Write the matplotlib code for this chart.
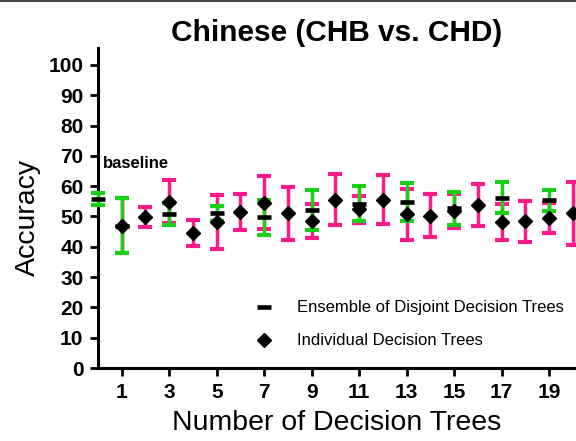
import matplotlib
matplotlib.use("Agg")
import matplotlib.pyplot as plt
from matplotlib.lines import Line2D
import numpy as np

plt.rcParams['font.family'] = ['Liberation Sans', 'DejaVu Sans']

# ---- data ----
indiv_x = list(range(1, 21))
indiv_mean = [47.0, 49.9, 54.9, 44.5, 48.2, 51.4, 54.6, 51.0, 48.6, 55.6,
              52.4, 55.6, 50.8, 50.2, 51.8, 53.9, 48.1, 48.4, 49.6, 51.0]
indiv_err = [9.2, 3.3, 7.0, 4.2, 9.0, 6.0, 8.8, 8.8, 5.6, 8.4,
             4.4, 8.1, 8.4, 7.1, 5.5, 6.9, 5.9, 6.8, 5.0, 10.5]

ens_x = [1, 3, 5, 7, 9, 11, 13, 15, 17, 19]
ens_mean = [47.0, 50.8, 51.0, 49.7, 52.3, 54.2, 54.8, 52.7, 56.2, 55.3]
ens_err = [9.2, 3.5, 2.6, 5.8, 6.6, 5.7, 6.4, 5.5, 5.2, 3.6]

base_x = [0]
base_mean = [55.7]
base_err = [2.0]

xticks = [1, 3, 5, 7, 9, 11, 13, 15, 17, 19]
yticks = [0, 10, 20, 30, 40, 50, 60, 70, 80, 90, 100]

title = "Chinese (CHB vs. CHD)"
xlabel = "Number of Decision Trees"
ylabel = "Accuracy"
leg_labels = ["Ensemble of Disjoint Decision Trees", "Individual Decision Trees"]

PINK = '#FF1A8A'
GREEN = '#19D019'

fig = plt.figure(figsize=(5.76, 4.41), dpi=100)
ax = fig.add_axes([98/576, 1-368/441, 1-98/576, (368-48)/441])

EW, CT, CS = 2.5, 3.0, 4.9
# pink error bars (individual)
ax.errorbar(indiv_x, indiv_mean, yerr=indiv_err, fmt='none', ecolor=PINK,
            elinewidth=EW, capsize=CS, capthick=CT, zorder=2)
# green error bars (ensemble)
ax.errorbar(ens_x, ens_mean, yerr=ens_err, fmt='none', ecolor=GREEN,
            elinewidth=EW, capsize=CS, capthick=CT, zorder=3)
eb = ax.errorbar(base_x, base_mean, yerr=base_err, fmt='none', ecolor=GREEN,
                 elinewidth=EW, capsize=CS, capthick=CT, zorder=3)
for art in eb.lines[1] + eb.lines[2]:
    art.set_clip_on(False)

# markers
ax.plot(indiv_x, indiv_mean, ls='none', marker='D', ms=7, color='black', zorder=4)
ax.plot(ens_x, ens_mean, ls='none', marker='_', ms=10, mew=3.3, color='black', zorder=5)
ax.plot(base_x, base_mean, ls='none', marker='_', ms=10, mew=3.3, color='black',
        zorder=6, clip_on=False)

ax.text(0.2, 67.5, "baseline", fontsize=12, fontweight='bold', ha='left', va='center')

ax.set_xlim(0, 20.13)
ax.set_ylim(0, 105.6)
ax.set_xticks(xticks)
ax.set_yticks(yticks)
ax.tick_params(axis='both', direction='out', length=6, width=2, pad=4.5,
               labelsize=15)
for lab in ax.get_xticklabels() + ax.get_yticklabels():
    lab.set_fontweight('bold')

for s in ['top', 'right']:
    ax.spines[s].set_visible(False)
for s in ['left', 'bottom']:
    ax.spines[s].set_linewidth(2.2)

ax.set_title(title, fontsize=21.5, fontweight='bold', pad=5)
ax.set_xlabel(xlabel, fontsize=20.5)
ax.set_ylabel(ylabel, fontsize=20.5)
ax.xaxis.set_label_coords(0.5, -0.132)
ax.yaxis.set_label_coords(-0.119, 0.472)

handles = [Line2D([], [], ls='none', marker='_', ms=10, mew=3.3, color='black'),
           Line2D([], [], ls='none', marker='D', ms=7, color='black')]
ax.legend(handles, leg_labels, loc='center left', bbox_to_anchor=(0.33, 0.136),
          frameon=False, fontsize=12, handlelength=1.0, handletextpad=1.48,
          labelspacing=1.08, borderpad=0, borderaxespad=0)

fig.add_artist(Line2D([0, 1], [1 - 0.7/441, 1 - 0.7/441], transform=fig.transFigure,
                      color='#222222', lw=1.2))

fig.savefig('out.png', dpi=100)
